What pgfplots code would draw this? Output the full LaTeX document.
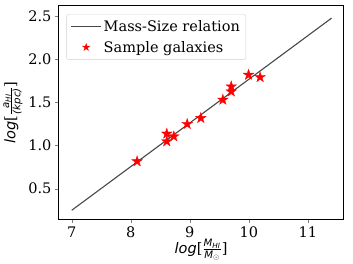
\documentclass[border=0pt]{standalone}
\usepackage{fontspec}
\setmainfont{DejaVu Serif}
\setsansfont{DejaVu Sans}
\usepackage{amsmath}
\usepackage{pgfplots}
\pgfplotsset{compat=1.18}
\pgfdeclareplotmark{fstar}{%
  \pgfpathmoveto{\pgfpointpolar{90}{\pgfplotmarksize}}%
  \pgfpathlineto{\pgfpointpolar{126}{0.382\pgfplotmarksize}}%
  \pgfpathlineto{\pgfpointpolar{162}{\pgfplotmarksize}}%
  \pgfpathlineto{\pgfpointpolar{198}{0.382\pgfplotmarksize}}%
  \pgfpathlineto{\pgfpointpolar{234}{\pgfplotmarksize}}%
  \pgfpathlineto{\pgfpointpolar{270}{0.382\pgfplotmarksize}}%
  \pgfpathlineto{\pgfpointpolar{306}{\pgfplotmarksize}}%
  \pgfpathlineto{\pgfpointpolar{342}{0.382\pgfplotmarksize}}%
  \pgfpathlineto{\pgfpointpolar{18}{\pgfplotmarksize}}%
  \pgfpathlineto{\pgfpointpolar{54}{0.382\pgfplotmarksize}}%
  \pgfpathclose
  \pgfusepathqfillstroke
}
\pgfplotsset{
  mylineleg/.style={legend image code/.code={\draw[##1] (0pt,0pt) -- (30pt,0pt);}},
  mymarkleg/.style={legend image code/.code={\draw[##1,mark size=3.8pt] plot coordinates {(15pt,0pt)};}},
}
\newcommand{\si}[1]{\textsf{\itshape #1}}
\begin{document}
\begin{tikzpicture}
\begin{axis}[
  name=main,
  scale only axis,
  width=285pt, height=214pt,
  xmin=6.775, xmax=11.605,
  ymin=0.142, ymax=2.624,
  xtick={7,8,9,10,11},
  xticklabels={7,8,9,10,11},
  ytick={0.5,1.0,1.5,2.0,2.5},
  yticklabels={0.5,1.0,1.5,2.0,2.5},
  tick label style={font=\rmfamily\fontsize{14.5}{17}\selectfont},
  tick align=outside,
  major tick length=3.5pt,
  xtick pos=left, ytick pos=left,
  axis line style={line width=0.6pt},
  xlabel={\fontsize{14.5}{17}\selectfont\si{log}[$\frac{\si{M}_{\si{HI}}}{\si{M}_{\odot}}$]},
  ylabel={\fontsize{14.5}{17}\selectfont\si{log}[$\frac{\si{a}_{\si{HI}}}{\si{(kpc)}}$]},
  xlabel style={yshift=5pt},
  ylabel style={yshift=-1pt},
  legend style={at={(axis description cs:0.028,0.958)}, anchor=north west,
    draw=black!18, rounded corners=2pt, font=\rmfamily\fontsize{14.5}{17}\selectfont,
    inner sep=4pt, row sep=4pt, legend cell align=left},
]
\addplot[black!72, line width=1.1pt, mylineleg]
  coordinates {(7,0.249) (11.4,2.4754)};
\addlegendentry{Mass-Size relation}
\addplot[only marks, mark=fstar, mark size=5.6pt, red, mark options={fill=red, line width=0.3pt}, mymarkleg]
  coordinates {
  (8.107,0.816) (8.610,1.136) (8.610,1.047) (8.729,1.105) (8.955,1.248)
  (9.186,1.317) (9.559,1.529) (9.701,1.683) (9.701,1.625) (9.994,1.818) (10.19,1.791)
  };
\addlegendentry{Sample galaxies}
\end{axis}
\path ([xshift=9pt,yshift=5pt]main.outer north east);
\end{tikzpicture}
\end{document}
